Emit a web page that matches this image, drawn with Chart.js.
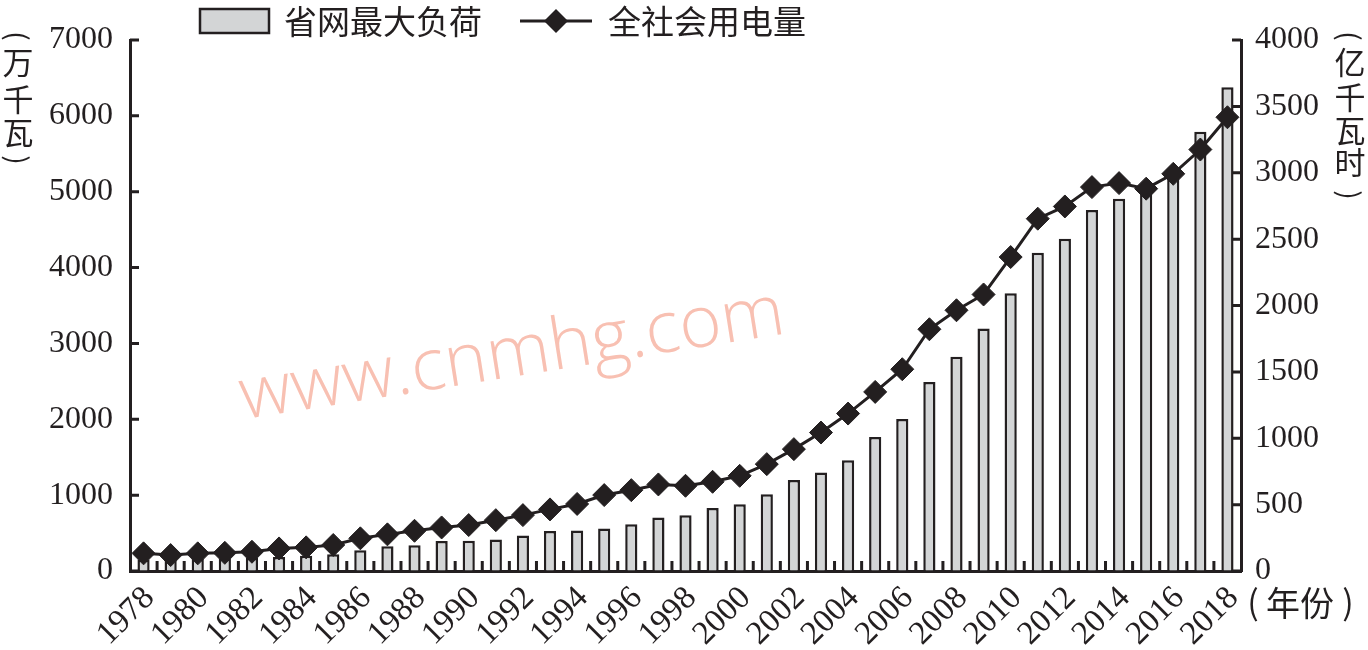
<!DOCTYPE html>
<html>
<head>
<meta charset="utf-8">
<script src="https://cdn.jsdelivr.net/npm/chart.js@4.4.1/dist/chart.umd.min.js"></script>
<style>
  html, body { margin: 0; padding: 0; background: #fff; }
  #wrap { width: 1368px; height: 650px; position: relative; }
</style>
</head>
<body>
<div id="wrap"><canvas id="chart"></canvas></div>
<script>
// years 1978-2018
const years = ['1978','1979','1980','1981','1982','1983','1984','1985','1986','1987',
  '1988','1989','1990','1991','1992','1993','1994','1995','1996','1997',
  '1998','1999','2000','2001','2002','2003','2004','2005','2006','2007',
  '2008','2009','2010','2011','2012','2013','2014','2015','2016','2017','2018'];

// 省网最大负荷 (万千瓦), left axis
const maxLoad = [150, 155, 160, 165, 175, 185, 200, 220, 273, 326,
  339, 396, 398, 414, 467, 528, 533, 559, 616, 704,
  735, 831, 880, 1012, 1200, 1298, 1460, 1768, 2005, 2493,
  2823, 3198, 3660, 4195, 4380, 4759, 4908, 5050, 5200, 5792, 6377];

// 全社会用电量 (亿千瓦时), right axis
const consumption = [133, 120, 133, 137, 145, 170, 178, 196, 246, 276,
  303, 328, 346, 383, 421, 464, 505, 572, 609, 652,
  642, 672, 717, 805, 918, 1043, 1186, 1349, 1520, 1821,
  1964, 2083, 2365, 2654, 2746, 2892, 2922, 2880, 2992, 3175, 3418];

const leftUnit = ['万', '千', '瓦'];
const rightUnit = ['亿', '千', '瓦', '时'];
const xUnit = '年份';
const legendNames = ['省网最大负荷', '全社会用电量'];

const INK = '#231f20';
const BAR_FILL = '#d3d5d6';
const SERIF = '"Liberation Serif", "DejaVu Serif", serif';
const CJK = '"Noto Sans CJK SC", sans-serif';

const diamond = (ctx, x, y, r) => {
  ctx.beginPath();
  ctx.moveTo(x, y - r);
  ctx.lineTo(x + r, y);
  ctx.lineTo(x, y + r);
  ctx.lineTo(x - r, y);
  ctx.closePath();
  ctx.fill();
};

// parenthesis turned on its side, for the vertical unit labels
const sideParen = (ctx, ch, x, y) => {
  ctx.save();
  ctx.translate(x, y);
  ctx.rotate(Math.PI / 2);
  ctx.font = '28px ' + CJK;
  ctx.fillText(ch, 0, 0);
  ctx.restore();
};

const decor = {
  id: 'decor',
  beforeDatasetsDraw(chart) {
    // watermark
    const { ctx } = chart;
    ctx.save();
    ctx.translate(512, 356);
    ctx.rotate(-9 * Math.PI / 180);
    ctx.font = '300 72px "Open Sans", sans-serif';
    ctx.fillStyle = '#f8c0b2';
    ctx.textAlign = 'center';
    ctx.textBaseline = 'middle';
    ctx.fillText('www.cnmhg.com', 0, 0);
    ctx.restore();
  },
  afterDraw(chart) {
    const { ctx, chartArea: a, scales } = chart;
    ctx.save();
    ctx.strokeStyle = INK;
    ctx.lineWidth = 3;
    ctx.beginPath();
    // inward tick marks
    scales.y.ticks.forEach(t => {
      const y = scales.y.getPixelForValue(t.value);
      ctx.moveTo(a.left, y); ctx.lineTo(a.left + 9, y);
    });
    scales.y1.ticks.forEach(t => {
      const y = scales.y1.getPixelForValue(t.value);
      ctx.moveTo(a.right, y); ctx.lineTo(a.right - 9, y);
    });
    for (let i = 1; i < years.length; i++) {
      const x = (scales.x.getPixelForValue(i - 1) + scales.x.getPixelForValue(i)) / 2;
      ctx.moveTo(x, a.bottom); ctx.lineTo(x, a.bottom - 10);
    }
    ctx.stroke();

    // unit labels
    ctx.fillStyle = INK;
    ctx.textAlign = 'center';
    ctx.textBaseline = 'middle';
    ctx.font = '31px ' + CJK;
    [62, 99, 132].forEach((y, i) => ctx.fillText(leftUnit[i], 18, y));
    sideParen(ctx, '(', 18, 36);
    sideParen(ctx, ')', 18, 160);
    ctx.font = '31px ' + CJK;
    [62, 97, 130, 162].forEach((y, i) => ctx.fillText(rightUnit[i], 1350, y));
    sideParen(ctx, '(', 1350, 36);
    sideParen(ctx, ')', 1350, 195);
    ctx.font = '34px ' + CJK;
    ctx.fillText(xUnit, 1300, 603);
    ctx.fillText('(', 1253, 602);
    ctx.fillText(')', 1348, 602);

    // legend
    ctx.fillStyle = BAR_FILL;
    ctx.fillRect(200, 9, 69, 24);
    ctx.lineWidth = 2.5;
    ctx.strokeRect(200, 9, 69, 24);
    ctx.fillStyle = INK;
    ctx.textAlign = 'left';
    ctx.font = '33px ' + CJK;
    ctx.fillText(legendNames[0], 284, 21);
    ctx.lineWidth = 3;
    ctx.beginPath();
    ctx.moveTo(520, 21); ctx.lineTo(592, 21);
    ctx.stroke();
    diamond(ctx, 556, 21, 12);
    ctx.fillText(legendNames[1], 608, 21);
    ctx.restore();
  }
};

new Chart(document.getElementById('chart'), {
  data: {
    labels: years,
    datasets: [
      {
        type: 'line',
        label: legendNames[1],
        data: consumption,
        yAxisID: 'y1',
        borderColor: INK,
        borderWidth: 3,
        tension: 0,
        pointStyle: 'rectRot',
        pointRadius: 11.5,
        pointBackgroundColor: INK,
        pointBorderColor: INK,
        pointBorderWidth: 1,
        order: 0
      },
      {
        type: 'bar',
        label: legendNames[0],
        data: maxLoad,
        yAxisID: 'y',
        backgroundColor: BAR_FILL,
        borderColor: INK,
        borderWidth: 2.5,
        categoryPercentage: 1,
        barPercentage: 0.45,
        order: 1
      }
    ]
  },
  options: {
    responsive: true,
    maintainAspectRatio: false,
    animation: false,
    layout: { padding: { top: 40, left: 0, right: 0, bottom: 0 } },
    plugins: {
      legend: { display: false },
      tooltip: { enabled: false }
    },
    scales: {
      x: {
        grid: { drawOnChartArea: false, drawTicks: false },
        border: { color: INK, width: 3 },
        ticks: {
          autoSkip: false,
          minRotation: 45,
          maxRotation: 45,
          padding: 8,
          labelOffset: 6,
          color: INK,
          font: { family: SERIF, size: 33 },
          callback: (v, i) => i % 2 === 0 ? years[i] : ''
        },
        afterFit: s => { s.height = 79; }
      },
      y: {
        position: 'left',
        min: 0,
        max: 7000,
        grid: { drawOnChartArea: false, drawTicks: false },
        border: { color: INK, width: 3 },
        ticks: {
          stepSize: 1000,
          padding: 17,
          color: INK,
          font: { family: SERIF, size: 32 },
          callback: v => String(v)
        },
        afterFit: s => { s.width = 130; }
      },
      y1: {
        position: 'right',
        min: 0,
        max: 4000,
        grid: { drawOnChartArea: false, drawTicks: false },
        border: { color: INK, width: 3 },
        ticks: {
          stepSize: 500,
          padding: 14,
          color: INK,
          font: { family: SERIF, size: 32 },
          callback: v => String(v)
        },
        afterFit: s => { s.width = 127; }
      }
    }
  },
  plugins: [decor]
});
</script>
</body>
</html>
